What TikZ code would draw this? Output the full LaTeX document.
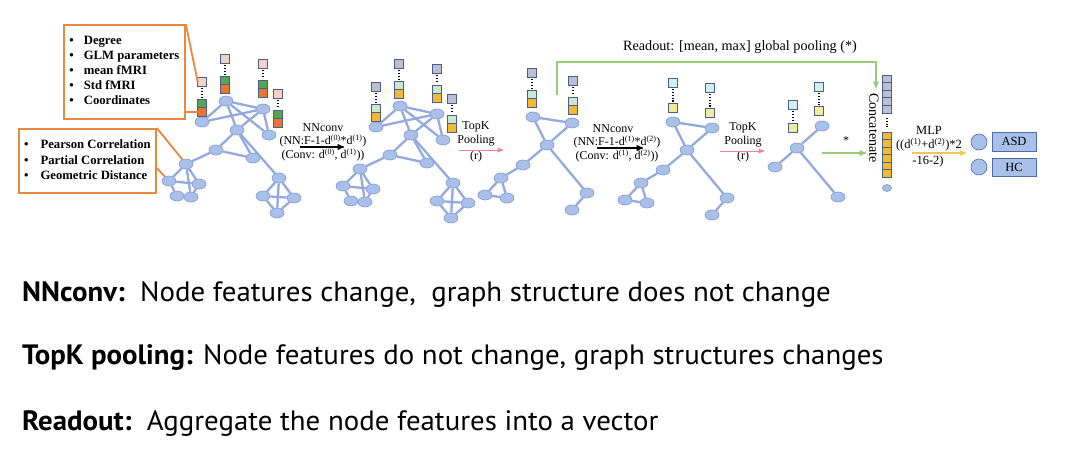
\documentclass[tikz,border=0pt]{standalone}
\usepackage{fontspec}
\setmainfont{Liberation Serif}
\newfontfamily\slidefont[FakeStretch=1.03]{PT Sans}
\usepackage{tikz}
\usetikzlibrary{shapes.geometric,arrows}
\definecolor{gblue}{RGB}{170,192,232}
\definecolor{gborder}{RGB}{122,150,212}
\definecolor{gline}{RGB}{146,170,224}
\definecolor{calloutorange}{RGB}{234,136,60}
\definecolor{sqborder}{RGB}{76,92,140}
\definecolor{peach}{RGB}{240,210,198}
\definecolor{featgreen}{RGB}{82,168,80}
\definecolor{featorange}{RGB}{234,118,46}
\definecolor{slate}{RGB}{184,192,210}
\definecolor{mint}{RGB}{202,232,204}
\definecolor{featyellow}{RGB}{242,186,50}
\definecolor{paleteal}{RGB}{206,240,238}
\definecolor{paleyellow}{RGB}{240,236,160}
\definecolor{readgreen}{RGB}{152,204,122}
\definecolor{poolpink}{RGB}{240,130,146}
\definecolor{mlpyellow}{RGB}{242,200,84}
\definecolor{outblue}{RGB}{168,192,234}
\definecolor{outborder}{RGB}{78,110,170}
\tikzstyle{gnode} = [ellipse,draw=gborder,fill=gblue,line width=0.6pt,minimum width=14pt,minimum height=10pt,inner sep=0pt]
\tikzstyle{gedge} = [draw=gline,line width=2.3pt]
\tikzstyle{feat} = [draw=sqborder,line width=1pt,minimum size=8.5pt,inner sep=0pt,outer sep=0pt]
\tikzstyle{stackdots} = [draw,line width=1.2pt,dash pattern=on 1.2pt off 1.6pt]
\tikzstyle{infobox} = [draw=calloutorange,line width=1.8pt,fill=white,inner sep=0pt]
\tikzstyle{callout} = [draw=calloutorange,line width=1.8pt]
\tikzstyle{lbl} = [font=\fontsize{12}{12}\selectfont,inner sep=0pt]
\tikzstyle{vcell} = [draw=sqborder,line width=0.8pt,minimum width=9pt,minimum height=7.6pt,inner sep=0pt,outer sep=0pt]
\tikzstyle{note} = [anchor=base west,inner sep=0pt,font=\slidefont\fontsize{28}{32}\selectfont]

% three feature squares: name, x, y top, y bottom, colours
\newcommand{\featThree}[7]{%
  \node[feat,fill=#5] (#1t) at (#2,#3) {};
  \node[feat,fill=#7] (#1b) at (#2,#4) {};
  \node[feat,fill=#6,anchor=south] (#1m) at (#1b.north) {};
  \draw[stackdots] ([yshift=-2pt]#1t.south) -- ([yshift=2pt]#1m.north);
}
% two feature squares
\newcommand{\featTwo}[6]{%
  \node[feat,fill=#5] (#1t) at (#2,#3) {};
  \node[feat,fill=#6] (#1b) at (#2,#4) {};
  \draw[stackdots] ([yshift=-2pt]#1t.south) -- ([yshift=2pt]#1b.north);
}
% whole brain graph
\newcommand{\fullGraph}[3]{%
  \begin{scope}[shift={(#2,#3)}]
    \node[gnode] (#1a) at (202,122) {};
    \node[gnode] (#1b) at (226,101) {};
    \node[gnode] (#1c) at (263,109) {};
    \node[gnode] (#1d) at (237,130) {};
    \node[gnode] (#1e) at (269,135) {};
    \node[gnode] (#1f) at (216,150) {};
    \node[gnode] (#1g) at (253,158) {};
    \node[gnode] (#1h) at (186,164) {};
    \node[gnode] (#1i) at (169,181) {};
    \node[gnode] (#1j) at (199,184) {};
    \node[gnode] (#1k) at (177,196) {};
    \node[gnode] (#1l) at (191,197) {};
    \node[gnode] (#1m) at (279,178) {};
    \node[gnode] (#1n) at (263,196) {};
    \node[gnode] (#1o) at (294,198) {};
    \node[gnode] (#1p) at (277,213) {};
  \end{scope}
  \foreach \u/\v in {a/b,a/c,b/c,b/d,b/e,c/d,c/e,d/f,d/g,d/m,f/g,f/h,h/i,h/j,h/l,i/j,i/k,j/l,k/l,m/n,m/o,m/p,n/o,n/p,o/p}
    \draw[gedge] (#1\u) -- (#1\v);
}
% graph after pooling
\newcommand{\poolGraph}[3]{%
  \begin{scope}[shift={(#2,#3)}]
    \node[gnode] (#1a) at (533,117) {};
    \node[gnode] (#1b) at (572,123) {};
    \node[gnode] (#1c) at (547,145) {};
    \node[gnode] (#1d) at (523,165) {};
    \node[gnode] (#1e) at (501,178) {};
    \node[gnode] (#1f) at (485,195) {};
    \node[gnode] (#1g) at (507,198) {};
    \node[gnode] (#1h) at (587,193) {};
    \node[gnode] (#1i) at (572,210) {};
  \end{scope}
  \foreach \u/\v in {a/b,a/c,b/c,c/d,d/e,e/f,e/g,f/g,c/h,h/i}
    \draw[gedge] (#1\u) -- (#1\v);
}

\begin{document}
\begin{tikzpicture}[x=1pt,y=-1pt,post/.style={->,>=stealth',line width=1.3pt}]
  \useasboundingbox[fill=white] (0,0) rectangle (1080,469);

  % input graph and the two NNconv / pooling steps
  \fullGraph{g1}{0}{0}
  \fullGraph{g2}{174}{5}
  \poolGraph{g3}{0}{0}
  \poolGraph{g4}{140}{5}

  \node[gnode] (g5a) at (822,126) {};
  \node[gnode] (g5b) at (797,148) {};
  \node[gnode] (g5c) at (775,167) {};
  \node[gnode] (g5d) at (838,197) {};
  \draw[gedge] (g5a) -- (g5b);
  \draw[gedge] (g5b) -- (g5c);
  \draw[gedge] (g5b) -- (g5d);

  % node features
  \featThree{g1s1}{202}{82}{112}{peach}{featgreen}{featorange}
  \featThree{g1s2}{225}{59}{89}{peach}{featgreen}{featorange}
  \featThree{g1s3}{263}{64}{93}{peach}{featgreen}{featorange}
  \featThree{g1s4}{278}{94}{123}{peach}{featgreen}{featorange}
  \featThree{g2s1}{376}{87}{117}{slate}{mint}{featyellow}
  \featThree{g2s2}{399}{64}{94}{slate}{mint}{featyellow}
  \featThree{g2s3}{437}{69}{98}{slate}{mint}{featyellow}
  \featThree{g2s4}{452}{99}{128}{slate}{mint}{featyellow}
  \featThree{g3s1}{532}{73}{103}{slate}{mint}{featyellow}
  \featThree{g3s2}{573}{81}{110}{slate}{mint}{featyellow}
  \featTwo{g4s1}{673}{83}{108}{paleteal}{paleyellow}
  \featTwo{g4s2}{710}{88}{113}{paleteal}{paleyellow}
  \featTwo{g5s1}{793}{105}{128}{paleteal}{paleyellow}
  \featTwo{g5s2}{819}{87}{111}{paleteal}{paleyellow}

  % callout boxes
  \node[infobox,anchor=north west,minimum width=121pt,minimum height=94pt,
        font=\bfseries\fontsize{12.7}{15}\selectfont] (feats) at (63,24)
    {\begin{tabular}{@{}l@{\hspace{10pt}}l@{}}
      \textbullet & Degree\\ \textbullet & GLM parameters\\ \textbullet & mean fMRI\\
      \textbullet & Std fMRI\\ \textbullet & Coordinates
    \end{tabular}};
  \draw[callout] (feats.north east) -- (g1s1t.west);
  \draw[callout] (feats.east |- g1s1b) -- (g1s1b.west);

  \node[infobox,anchor=north west,minimum width=137pt,minimum height=64pt,
        font=\bfseries\fontsize{12.7}{15.5}\selectfont] (links) at (18,128)
    {\begin{tabular}{@{}l@{\hspace{12pt}}l@{}}
      \textbullet & Pearson Correlation\\ \textbullet & Partial Correlation\\
      \textbullet & Geometric Distance
    \end{tabular}};
  \draw[callout] (links.north east) -- (g1h);
  \draw[callout] ([yshift=-40pt]links.north east) -- (g1i);

  % step labels
  \node[lbl] (conv1a) at (323,128) {NNconv};
  \node[lbl] (conv1b) at (323,141) {(NN:F-1-d\textsuperscript{(0)}*d\textsuperscript{(1)})};
  \node[lbl] (conv1c) at (323,155) {(Conv: d\textsuperscript{(0)}, d\textsuperscript{(1)}))};
  \coordinate (conv1s) at (300,147);
  \coordinate (conv1e) at (344,147);
  \draw[post] (conv1s) -- (conv1e);

  \node[lbl] (pool1a) at (476,127) {TopK};
  \node[lbl] (pool1b) at (476,141) {Pooling};
  \node[lbl] (pool1c) at (476,157) {(r)};
  \coordinate (pool1s) at (459,150);
  \coordinate (pool1e) at (503,150);
  \draw[post,draw=poolpink,line width=1pt] (pool1s) -- (pool1e);

  \node[lbl] (conv2a) at (613,129) {NNconv};
  \node[lbl] (conv2b) at (617,142) {(NN:F-1-d\textsuperscript{(1)}*d\textsuperscript{(2)})};
  \node[lbl] (conv2c) at (617,156) {(Conv: d\textsuperscript{(1)}, d\textsuperscript{(2)}))};
  \coordinate (conv2s) at (597,148);
  \coordinate (conv2e) at (643,148);
  \draw[post] (conv2s) -- (conv2e);

  \node[lbl] (pool2a) at (743,128) {TopK};
  \node[lbl] (pool2b) at (743,142) {Pooling};
  \node[lbl] (pool2c) at (743,157) {(r)};
  \coordinate (pool2s) at (720,151);
  \coordinate (pool2e) at (764,151);
  \draw[post,draw=poolpink,line width=1pt] (pool2s) -- (pool2e);

  % readout
  \node[inner sep=0pt,font=\fontsize{14.2}{15}\selectfont] (readlbl) at (740,47)
    {Readout: [mean, max] global pooling (*)};
  \coordinate (rdstart) at (557,95);
  \coordinate (rdend) at (876,88);
  \draw[post,draw=readgreen,line width=1.3pt] (rdstart) -- ++(0,-33) -| (rdend);
  \node[inner sep=0pt,font=\fontsize{12}{12}\selectfont] (starlbl) at (846,141) {*};
  \coordinate (starfrom) at (822,153);
  \coordinate (starto) at (866,153);
  \draw[post,draw=readgreen,line width=1.3pt] (starfrom) -- (starto);

  % concatenated vector
  \foreach \i in {0,...,4}
    \node[vcell,fill=slate] (vg\i) at (887,78.8+7.6*\i) {};
  \foreach \i in {0,...,5}
    \node[vcell,fill=featyellow] (vo\i) at (887,135.8+7.5*\i) {};
  \draw[stackdots] ([yshift=-5pt]vg4.south) -- ([yshift=5pt]vo0.north);
  \node[gnode,minimum width=9pt,minimum height=7pt] (vend) at (887,188) {};
  \node[rotate=-90,inner sep=0pt,font=\fontsize{14}{14}\selectfont] (catlbl) at (874,128) {Concatenate};

  % classifier
  \node[inner sep=0pt,font=\fontsize{12.5}{13}\selectfont] (mlpa) at (929,130) {MLP};
  \node[inner sep=0pt,font=\fontsize{12.5}{13}\selectfont] (mlpb) at (929,145) {((d\textsuperscript{(1)}+d\textsuperscript{(2)})*2};
  \node[inner sep=0pt,font=\fontsize{12.5}{13}\selectfont] (mlpc) at (928,161) {-16-2)};
  \coordinate (mlps) at (912,153);
  \coordinate (mlpe) at (966,153);
  \draw[post,draw=mlpyellow,line width=1.2pt] (mlps) -- (mlpe);

  \node[circle,draw=outborder,fill=outblue,line width=0.6pt,minimum size=16pt,inner sep=0pt] (asdc) at (979,142) {};
  \node[circle,draw=outborder,fill=outblue,line width=0.6pt,minimum size=16pt,inner sep=0pt] (hcc) at (979,167) {};
  \node[draw=outborder,fill=outblue,line width=0.8pt,minimum width=44pt,minimum height=19pt,inner sep=0pt,
        font=\fontsize{12.5}{13}\selectfont] (asd) at (1014,141.5) {ASD};
  \node[draw=outborder,fill=outblue,line width=0.8pt,minimum width=44pt,minimum height=18pt,inner sep=0pt,
        font=\fontsize{12.5}{13}\selectfont] (hc) at (1014,167) {HC};

  % notes
  \node[note] (nnnote) at (22,301) {\textbf{NNconv:}\ \ Node features change,\ \ graph structure does not change};
  \node[note] (poolnote) at (22,364) {\textbf{TopK pooling:} Node features do not change, graph structures changes};
  \node[note] (readnote) at (22,430) {\textbf{Readout:}\ \ Aggregate the node features into a vector};
\end{tikzpicture}
\end{document}
